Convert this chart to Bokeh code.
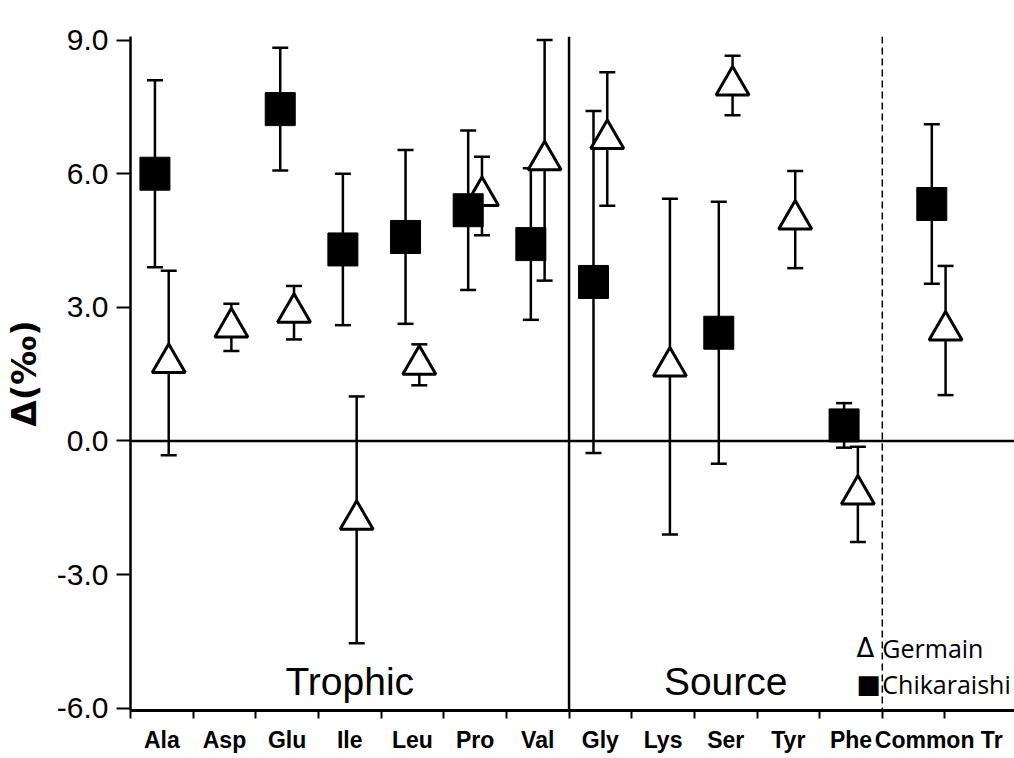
from bokeh.plotting import figure
from bokeh.models import (ColumnDataSource, Whisker, TeeHead, Span, Label, FixedTicker,
                          CustomJSTickFormatter, Range1d, NumeralTickFormatter)
from bokeh.transform import dodge
from bokeh.embed import file_html
from bokeh.resources import INLINE

# ---------------- data ----------------
categories = ["Ala", "Asp", "Glu", "Ile", "Leu", "Pro", "Val",
              "Gly", "Lys", "Ser", "Tyr", "Phe", "Common Tr"]
groups = ["Trophic"] * 7 + ["Source"] * 5 + ["Common"]
germain_mean = [1.75, 2.55, 2.88, -1.77, 1.71, 5.50, 6.30,
                6.78, 1.67, 7.98, 4.97, -1.20, 2.48]
germain_err = [2.07, 0.53, 0.60, 2.77, 0.46, 0.88, 2.70,
               1.50, 3.77, 0.67, 1.09, 1.07, 1.45]
chikaraishi_mean = [6.00, None, 7.45, 4.30, 4.58, 5.18, 4.42,
                    3.57, None, 2.43, None, 0.35, 5.32]
chikaraishi_err = [2.10, None, 1.38, 1.70, 1.95, 1.79, 1.70,
                   3.84, None, 2.94, None, 0.50, 1.79]
y_ticks = [-6.0, -3.0, 0.0, 3.0, 6.0, 9.0]
group_labels = ["Trophic", "Source"]
legend_symbols = ["\u0394", "\u25A0"]
legend_names = ["Germain", "Chikaraishi"]

# ---------------- layout helpers ----------------
GROUP_GAP = {"Trophic": 0.0, "Source": 0.0, "Common": 0.4}
x_pos = [i + GROUP_GAP[g] for i, g in enumerate(groups)]
n = len(categories)
boundaries = [i - 0.5 for i in range(n + 1)]
separators = [i - 0.5 for i in range(1, n) if groups[i] != groups[i - 1]]

def rows(mean, err):
    d = dict(x=[], y=[], upper=[], lower=[])
    for x, m, e in zip(x_pos, mean, err):
        if m is None:
            continue
        d["x"].append(x)
        d["y"].append(m)
        d["upper"].append(m + e)
        d["lower"].append(m - e)
    return ColumnDataSource(d)

src_g = rows(germain_mean, germain_err)
src_c = rows(chikaraishi_mean, chikaraishi_err)

p = figure(width=1014, height=758,
           x_range=Range1d(-0.5, 13.61), y_range=Range1d(-6.05, 9.08),
           output_backend="svg", toolbar_location=None,
           min_border_left=125, min_border_right=0,
           min_border_top=36, min_border_bottom=48)
p.outline_line_color = None
p.grid.visible = False
p.background_fill_color = "white"

OFF = 0.11

# zero line and separators
p.add_layout(Span(location=0, dimension="width", line_color="black", line_width=2.5))
p.add_layout(Span(location=separators[0], dimension="height",
                  line_color="black", line_width=2.5))
p.add_layout(Span(location=separators[1], dimension="height",
                  line_color="black", line_width=1.5, line_dash="7 4"))

def whisk(src, off):
    w = Whisker(source=src, base=dodge("x", off, range=p.x_range),
                upper="upper", lower="lower", dimension="height",
                line_color="black", line_width=2.5,
                upper_head=TeeHead(size=16, line_width=2.5, line_color="black"),
                lower_head=TeeHead(size=16, line_width=2.5, line_color="black"))
    p.add_layout(w)

whisk(src_g, OFF)
whisk(src_c, -OFF)

p.scatter(x=dodge("x", OFF, range=p.x_range), y="y", source=src_g,
          marker="triangle", size=33, fill_color="white",
          line_color="black", line_width=3)
p.rect(x=dodge("x", -OFF, range=p.x_range), y="y", source=src_c,
       width=30, height=33, width_units="screen", height_units="screen",
       fill_color="black", line_color="black")

# group labels
trophic_center = sum(x for x, g in zip(x_pos, groups) if g == "Trophic") / groups.count("Trophic")
source_center = sum(x for x, g in zip(x_pos, groups) if g == "Source") / groups.count("Source")
for txt, cx in zip(group_labels, [trophic_center, source_center]):
    p.add_layout(Label(x=cx, y=-5.40, text=txt, text_align="center",
                       text_baseline="alphabetic", text_font="Liberation Sans",
                       text_font_size="39px", text_color="black"))

# legend (as text)
legend_y = [-4.64, -5.46]
for sym, name, yy, ssize in zip(legend_symbols, legend_names, legend_y, ["26px", "26px"]):
    p.add_layout(Label(x=11.09, y=yy, text=sym, text_align="left",
                       text_baseline="alphabetic", text_font="DejaVu Sans",
                       text_font_size=ssize, text_color="black"))
    p.add_layout(Label(x=11.50, y=yy, text=name, text_align="left",
                       text_baseline="alphabetic", text_font="Open Sans",
                       text_font_size="25px", text_color="black"))

# axes
yax = p.yaxis[0]
yax.ticker = FixedTicker(ticks=y_ticks)
yax.formatter = NumeralTickFormatter(format="0.0")
yax.axis_label = "\u0394(\u2030)"
yax.axis_label_text_font = "DejaVu Sans"
yax.axis_label_text_font_style = "bold"
yax.axis_label_text_font_size = "34px"
yax.axis_label_text_color = "black"
yax.axis_label_standoff = 10
yax.major_label_text_font = "Liberation Sans"
yax.major_label_text_font_size = "30px"
yax.major_label_text_color = "black"
yax.major_label_standoff = 8
yax.major_tick_out = 14
yax.major_tick_in = 0
yax.major_tick_line_width = 2
yax.minor_tick_line_color = None
yax.axis_line_width = 2.5
yax.axis_line_color = "black"

xax = p.xaxis[0]
xax.ticker = FixedTicker(ticks=x_pos, minor_ticks=boundaries)
xax.formatter = CustomJSTickFormatter(args=dict(pos=x_pos, names=categories), code="""
const i = pos.findIndex(v => Math.abs(v - tick) < 1e-6);
return i >= 0 ? names[i] : "";
""")
xax.major_tick_line_color = None
xax.major_tick_out = 0
xax.major_tick_in = 0
xax.minor_tick_out = 8
xax.minor_tick_in = 0
xax.minor_tick_line_width = 2
xax.minor_tick_line_color = "black"
xax.major_label_standoff = 8
xax.major_label_text_font = "Liberation Sans"
xax.major_label_text_font_style = "bold"
xax.major_label_text_font_size = "23px"
xax.major_label_text_color = "black"
xax.axis_line_width = 3
xax.axis_line_color = "black"

open("out.html", "w").write(file_html(p, INLINE))
